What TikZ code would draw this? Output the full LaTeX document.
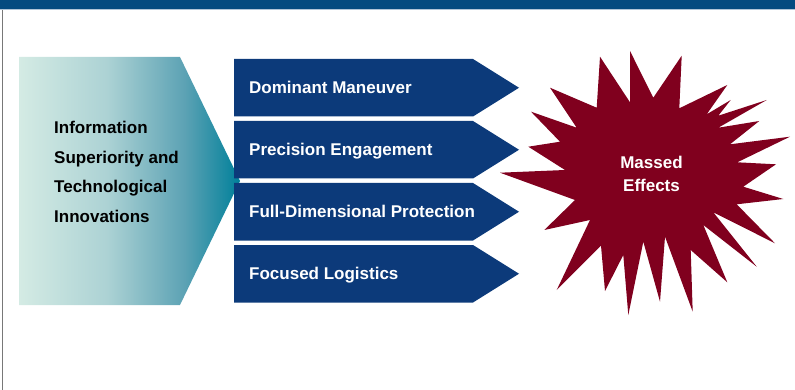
\documentclass[tikz,border=0pt]{standalone}
\usepackage{fontspec}
\setmainfont{Liberation Sans}
\usepackage{xcolor}
\usetikzlibrary{positioning}
\definecolor{barblue}{RGB}{4,74,128}
\definecolor{barline}{RGB}{176,196,216}
\definecolor{framegray}{RGB}{120,120,120}
\definecolor{pillarblue}{RGB}{12,58,122}
\definecolor{burstred}{RGB}{128,0,30}
\definecolor{tealpale}{RGB}{212,235,228}
\definecolor{tealmid}{RGB}{172,210,212}
\definecolor{tealdeep}{RGB}{92,162,180}
\definecolor{tealdark}{RGB}{0,128,154}
\pgfdeclarehorizontalshading{infofade}{100bp}{color(0bp)=(tealpale); color(25bp)=(tealpale); color(45bp)=(tealmid); color(62.5bp)=(tealdeep); color(75bp)=(tealdark); color(100bp)=(tealdark)}

\begin{document}
\begin{tikzpicture}[x=1pt, y=-1pt,
    pillar/.style={fill=pillarblue},
    pillartxt/.style={anchor=base west, inner sep=0pt, text=white, font=\bfseries\fontsize{17}{20}\selectfont}]
  \useasboundingbox (0,0) rectangle (795,390);
  %top bar and frame
  \fill[barblue] (0,0) rectangle (795,9);
  \fill[barline] (0,9) rectangle (795,10.2);
  \fill[framegray] (1.6,10) rectangle (2.8,390);

  %enabler arrow
  \shade[shading=infofade] (19,57) -- (180,57) -- (240,181) -- (180,305) -- (19,305) -- cycle;
  \node[anchor=north west, inner sep=0pt, align=left, font=\bfseries\fontsize{17}{29.5}\selectfont] (info) at (54,121) {Information\\Superiority and\\Technological\\Innovations};

  %four pillars
  \fill[pillar] (234,59) -- (473,59) -- (519,87.75) -- (473,116.5) -- (234,116.5) -- cycle;
  \fill[pillar] (234,121) -- (473,121) -- (519,149.75) -- (473,178.5) -- (234,178.5) -- cycle;
  \fill[pillar] (234,183) -- (473,183) -- (519,211.75) -- (473,240.5) -- (234,240.5) -- cycle;
  \fill[pillar] (234,245) -- (473,245) -- (519,273.75) -- (473,302.5) -- (234,302.5) -- cycle;
  \node[pillartxt] (dom) at (249,93.75) {Dominant Maneuver};
  \node[pillartxt] (prec) at (249,155.75) {Precision Engagement};
  \node[pillartxt] (prot) at (249,217.75) {Full-Dimensional Protection};
  \node[pillartxt] (logi) at (249,279.75) {Focused Logistics};

  %starburst
  \fill[burstred] (500,172.7) -- (565,170) -- (528.3,146.7) -- (560,141.7) -- (531,111.7)
    -- (576.7,127.7) -- (550,87.7) -- (596.7,107.7) -- (600,56.7) -- (630,102.3)
    -- (630,51) -- (653.3,97.7) -- (681.7,55.7) -- (679.3,108.3) -- (727.3,85)
    -- (706.7,114.3) -- (730.7,100) -- (718.3,115.7) -- (766.7,100) -- (718.3,127.7)
    -- (759.3,121) -- (730,144.3) -- (790,136.7) -- (737.3,162.3) -- (776,164.3)
    -- (743.3,186.7) -- (783.3,199) -- (736.7,204.3) -- (775,243.3) -- (713.3,212.3)
    -- (756.7,266.7) -- (703.3,225) -- (727.3,282.3) -- (690.7,250) -- (692.7,311.7)
    -- (665,236.7) -- (660,301.7) -- (643.3,241.7) -- (628.3,315) -- (623.3,255)
    -- (605,291) -- (601,245.7) -- (556.7,290) -- (590,220) -- (544.3,230)
    -- (575,200) -- cycle;
  \node[anchor=north, inner sep=0pt, align=center, text=white, font=\bfseries\fontsize{17}{23}\selectfont] (massed) at (651.5,156) {Massed\\Effects};
\end{tikzpicture}
\end{document}
